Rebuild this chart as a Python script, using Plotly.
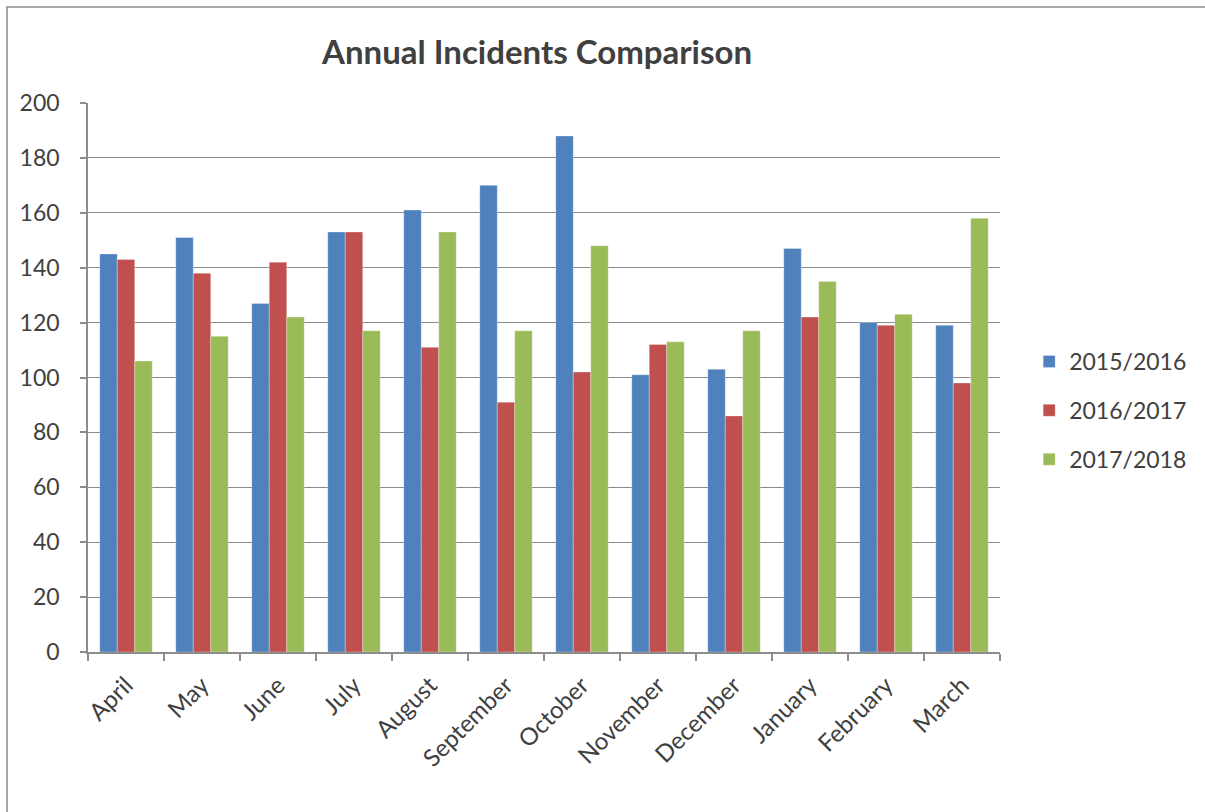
import plotly.graph_objects as go

months = ["April", "May", "June", "July", "August", "September", "October",
          "November", "December", "January", "February", "March"]
y2015_16 = [145, 151, 127, 153, 161, 170, 188, 101, 103, 147, 120, 119]
y2016_17 = [143, 138, 142, 153, 111, 91, 102, 112, 86, 122, 119, 98]
y2017_18 = [106, 115, 122, 117, 153, 117, 148, 113, 117, 135, 123, 158]

series = [
    ("2015/2016", y2015_16, "#4F81BD"),
    ("2016/2017", y2016_17, "#C0504D"),
    ("2017/2018", y2017_18, "#9BBB59"),
]

FONT = "Lato, 'Open Sans', sans-serif"
TEXT = "#404040"
GRID = "#8c8c8c"

fig = go.Figure()
for name, vals, color in series:
    fig.add_trace(go.Bar(
        x=months, y=vals, name=name, legendgroup=name,
        marker=dict(color=color, line=dict(color="rgba(255,255,255,0.5)", width=0.6)),
    ))

fig.update_layout(
    width=1205, height=812,
    margin=dict(l=88, r=205, t=103, b=160),
    paper_bgcolor="white", plot_bgcolor="white",
    barmode="group", bargap=0.31, bargroupgap=0,
    font=dict(family=FONT, color=TEXT),
    title=dict(text="<b>Annual Incidents Comparison</b>", x=0.4457, xanchor="center",
               y=0.935, yanchor="middle", font=dict(size=33, color=TEXT, family=FONT)),
    legend=dict(x=1.032, xanchor="left", y=0.44, yanchor="middle",
                font=dict(size=23, color=TEXT), tracegroupgap=16,
                itemwidth=30, bgcolor="rgba(0,0,0,0)"),
    xaxis=dict(
        tickangle=-45, tickfont=dict(size=24, color=TEXT), ticklabelstandoff=8,
        showline=True, linecolor=GRID, linewidth=1.5,
        ticks="outside", tickson="boundaries", ticklen=7, tickcolor=GRID, tickwidth=1.5,
        showgrid=False,
    ),
    yaxis=dict(
        range=[0, 200], dtick=20, tickfont=dict(size=23, color=TEXT), ticklabelstandoff=16,
        showline=True, linecolor=GRID, linewidth=1.5,
        ticks="outside", ticklen=6, tickcolor=GRID, tickwidth=1.5,
        showgrid=True, gridcolor=GRID, gridwidth=1.2, zeroline=False,
    ),
    shapes=[dict(type="rect", xref="paper", yref="paper",
                 x0=(7 - 88) / 912, x1=(1215 - 88) / 912,
                 y0=-(830 - 652) / 549, y1=1 + (103 - 7) / 549,
                 line=dict(color="#8c8c8c", width=1.5), layer="below")],
)

fig.write_html("out.html")
